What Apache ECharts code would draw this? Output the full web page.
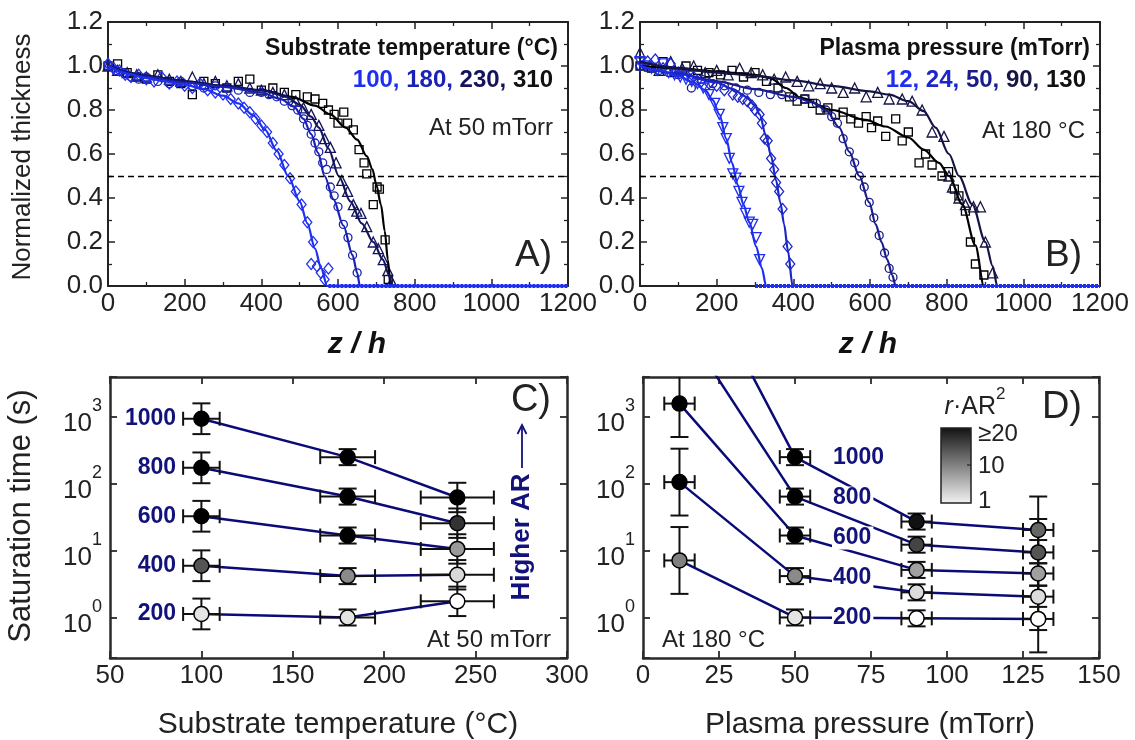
<!DOCTYPE html>
<html><head><meta charset="utf-8">
<script src="https://cdn.jsdelivr.net/npm/echarts@6/dist/echarts.min.js"></script>
<style>html,body{margin:0;padding:0;background:#fff}#c{width:1135px;height:740px}</style>
</head><body><div id="c"></div><script>
// ---------- Panel A: substrate temperature series (z/h, normalized thickness) ----------
const zA310 = [0,25,50,75,100,130,160,190,220,250,280,310,340,370,400,430,460,490,520,540,560,575,590,600,615,625,640,655,668,675,692,702,708,723,731];
const vA310 = [1.0,1.01,0.97,0.95,0.94,0.96,0.93,0.92,0.87,0.93,0.92,0.9,0.93,0.94,0.89,0.9,0.88,0.87,0.86,0.85,0.83,0.8,0.78,0.74,0.79,0.74,0.71,0.62,0.56,0.51,0.37,0.45,0.44,0.21,0.03];
const zA230 = [0,25,50,75,100,130,160,190,220,250,280,310,340,370,400,430,460,490,510,530,550,565,580,595,610,625,640,649,660,675,692,705,718,730,740];
const vA230 = [1.0,0.98,0.97,0.96,0.95,0.96,0.94,0.93,0.95,0.92,0.93,0.91,0.92,0.9,0.89,0.88,0.87,0.84,0.81,0.78,0.73,0.67,0.63,0.56,0.48,0.43,0.37,0.34,0.33,0.27,0.2,0.17,0.12,0.07,0.02];
const zA180 = [0,20,40,60,80,100,130,160,190,220,250,280,310,340,370,400,420,440,460,480,495,510,520,530,540,550,560,570,580,590,600,614,626,638,650];
const vA180 = [1.0,0.98,0.97,0.95,0.94,0.95,0.93,0.92,0.93,0.91,0.9,0.91,0.9,0.89,0.88,0.88,0.87,0.86,0.84,0.82,0.8,0.76,0.73,0.69,0.65,0.61,0.56,0.53,0.45,0.41,0.36,0.28,0.22,0.14,0.06];
const zA100 = [0,15,30,45,60,80,100,120,140,160,180,200,220,240,260,280,300,320,340,355,370,385,400,415,430,445,460,475,490,505,520,535,530,545,555,565,575];
const vA100 = [1.01,0.99,0.98,0.96,0.95,0.96,0.94,0.93,0.95,0.92,0.93,0.91,0.9,0.92,0.89,0.88,0.87,0.85,0.83,0.81,0.79,0.76,0.73,0.7,0.65,0.6,0.55,0.49,0.43,0.37,0.29,0.2,0.1,0.09,0.06,0.03,0.08];
const fitA310 = [[0,1.0],[100,0.955],[200,0.93],[300,0.91],[400,0.89],[480,0.86],[540,0.82],[580,0.78],[620,0.72],[650,0.665],[675,0.59],[690,0.53],[700,0.46],[712,0.37],[722,0.25],[730,0.12],[737,0],[1200,0]];
const fitA230 = [[0,1.0],[100,0.955],[200,0.93],[300,0.91],[400,0.89],[460,0.865],[500,0.825],[530,0.77],[550,0.72],[575,0.625],[602,0.5],[632,0.385],[662,0.285],[692,0.2],[717,0.12],[733,0.05],[742,0],[1200,0]];
const fitA180 = [[0,1.0],[100,0.95],[200,0.925],[300,0.905],[400,0.88],[450,0.85],[485,0.815],[510,0.76],[530,0.69],[548,0.605],[565,0.5],[588,0.395],[614,0.275],[638,0.14],[650,0.06],[657,0],[1200,0]];
const fitA100 = [[0,1.0],[50,0.965],[100,0.945],[150,0.93],[200,0.915],[250,0.895],[300,0.865],[340,0.83],[380,0.775],[410,0.71],[440,0.615],[470,0.5],[500,0.385],[520,0.285],[540,0.17],[556,0.08],[572,0],[1200,0]];
// range of z where the measured thickness is zero (dense markers along the axis)
const zeroA = [[575,0],[1200,0]];

// ---------- Panel B: plasma pressure series ----------
const zB12 = [0,15,30,45,60,75,90,105,120,135,150,165,180,195,207,216,225,233,242,250,258,266,275,285,294,303,312];
const vB12 = [1.02,1.0,0.99,0.98,1.01,0.97,0.96,0.95,0.94,0.93,0.92,0.9,0.87,0.83,0.78,0.72,0.67,0.58,0.51,0.49,0.43,0.38,0.33,0.29,0.28,0.22,0.12];
const zB24 = [0,20,40,60,80,100,120,140,160,180,200,220,242,255,268,280,292,300,312,318,325,333,342,350,355,363,372,385,392];
const vB24 = [1.0,1.02,1.03,0.99,1.01,0.97,0.96,0.95,0.93,0.92,0.91,0.89,0.87,0.86,0.85,0.84,0.82,0.8,0.78,0.74,0.67,0.66,0.58,0.53,0.47,0.43,0.35,0.18,0.1];
const zB50 = [0,25,50,75,100,134,160,190,220,250,280,310,340,370,400,430,460,485,500,515,530,546,560,572,585,598,610,624,638,650,660];
const vB50 = [1.0,0.99,0.98,0.97,0.96,0.9,0.94,0.92,0.91,0.9,0.89,0.88,0.87,0.87,0.86,0.85,0.83,0.8,0.77,0.74,0.67,0.61,0.56,0.5,0.45,0.38,0.31,0.23,0.15,0.08,0.04];
const zB90 = [0,25,50,80,110,140,170,200,230,260,290,320,350,380,410,440,470,500,530,560,590,620,650,684,710,736,762,793,806,815,832,849,870,888,901,920];
const vB90 = [1.06,1.0,0.98,1.02,0.99,1.0,0.97,0.98,0.96,0.99,0.97,0.96,0.94,0.95,0.93,0.91,0.92,0.9,0.88,0.9,0.86,0.88,0.85,0.85,0.84,0.8,0.7,0.68,0.5,0.45,0.4,0.37,0.36,0.36,0.2,0.06];
const zB130 = [0,30,60,90,120,150,180,210,240,270,300,330,360,390,410,430,450,470,490,510,530,550,570,590,604,620,641,667,684,700,728,745,762,788,805,820,832,849,862,875,897];
const vB130 = [1.0,0.99,1.02,0.97,1.0,0.98,0.97,0.96,0.98,0.95,0.97,0.93,0.9,0.86,0.84,0.85,0.83,0.8,0.81,0.78,0.79,0.76,0.74,0.77,0.72,0.75,0.68,0.76,0.66,0.7,0.56,0.6,0.55,0.5,0.52,0.44,0.41,0.34,0.2,0.1,0.05];
const fitB12 = [[0,1.0],[50,0.98],[100,0.955],[140,0.925],[170,0.89],[190,0.845],[207,0.78],[225,0.67],[240,0.56],[255,0.46],[270,0.37],[285,0.29],[303,0.18],[318,0.08],[329,0],[1200,0]];
const fitB24 = [[0,1.0],[100,0.965],[200,0.925],[242,0.895],[277,0.86],[300,0.82],[312,0.78],[329,0.68],[342,0.59],[355,0.48],[366,0.38],[376,0.28],[386,0.16],[398,0],[1200,0]];
const fitB50 = [[0,1.0],[100,0.965],[200,0.93],[300,0.895],[400,0.86],[450,0.835],[485,0.8],[520,0.72],[546,0.61],[572,0.5],[598,0.38],[615,0.28],[630,0.2],[645,0.12],[658,0.05],[667,0],[1200,0]];
const fitB90 = [[0,1.02],[100,0.99],[200,0.97],[300,0.955],[400,0.935],[500,0.91],[600,0.885],[650,0.87],[700,0.84],[740,0.795],[771,0.72],[806,0.6],[832,0.5],[867,0.37],[901,0.2],[920,0.09],[932,0],[1200,0]];
const fitB130 = [[0,1.0],[100,0.99],[200,0.975],[300,0.96],[340,0.945],[380,0.9],[420,0.855],[500,0.8],[589,0.755],[640,0.725],[700,0.675],[740,0.62],[780,0.56],[806,0.5],[841,0.37],[875,0.185],[897,0],[1200,0]];
const zeroB = [[300,0],[1200,0]];

// ---------- Panel C: saturation time vs substrate temperature ----------
const tempC = [100, 180, 240];
const satC200 = [1.14, 1.01, 1.76];
const satC400 = [6.0, 4.2, 4.4];
const satC600 = [33, 17, 10.7];
const satC800 = [175, 65, 26];
const satC1000 = [950, 253, 63];
const shadeC200 = ['#e4e4e4', '#e4e4e4', '#ffffff'];
const shadeC400 = ['#555555', '#8a8a8a', '#d8d8d8'];
const shadeC600 = ['#000000', '#000000', '#9a9a9a'];
const shadeC800 = ['#000000', '#000000', '#333333'];
const shadeC1000 = ['#000000', '#000000', '#000000'];
const xErrC = [10, 15, 20];
const yErrDecC = [0.23, 0.12, 0.22];

// ---------- Panel D: saturation time vs plasma pressure ----------
const pressD = [12, 50, 90, 130];
const satD200 = [7.2, 1.01, 0.98, 0.96];
const satD400 = [107, 4.2, 2.4, 2.07];
const satD600 = [1600, 17, 5.2, 4.6];
const satD800 = [29000, 65, 12.4, 9.5];
const satD1000 = [500000, 253, 27.5, 20.6];
const shadeD200 = ['#808080', '#e4e4e4', '#ffffff', '#ffffff'];
const shadeD400 = ['#000000', '#8a8a8a', '#dcdcdc', '#dcdcdc'];
const shadeD600 = ['#000000', '#000000', '#a0a0a0', '#a0a0a0'];
const shadeD800 = ['#000000', '#000000', '#444444', '#555555'];
const shadeD1000 = ['#000000', '#000000', '#111111', '#666666'];
const xErrD = [5, 5, 5, 5];
const yErrDecD = [0.5, 0.12, 0.12, 0.5];

const arLabels = ['200', '400', '600', '800', '1000'];

// ---------- styling ----------
const FONT = '"Liberation Sans", Arial, sans-serif';
const NAVY = '#12127A';
const LINE_NAVY = '#0B0B78';
const colA = { t100: '#1F2FEF', t180: '#1A22B4', t230: '#14145C', t310: '#000000' };
const colB = { p12: '#1F2FEF', p24: '#1B25C8', p50: '#1A1C8A', p90: '#151545', p130: '#000000' };

const zip = (xs, ys) => xs.map((x, i) => [x, ys[i]]);

function xPair(g, min, max, interval, minor) {
  const base = {
    type: 'value', gridIndex: g, min, max, interval,
    splitLine: { show: false },
    axisLine: { show: true, onZero: false, lineStyle: { color: '#222', width: 2 } },
    axisTick: { show: true, inside: true, length: 7, lineStyle: { color: '#222', width: 1.5 } },
    minorTick: { show: !!minor, splitNumber: minor || 5, length: 4, lineStyle: { color: '#222', width: 1.3 } }
  };
  return [
    Object.assign({}, base, { position: 'bottom', axisLabel: { show: true, fontSize: 26, color: '#222', fontFamily: FONT, margin: 5, formatter: v => String(v) } }),
    Object.assign({}, base, { position: 'top', axisLabel: { show: false } })
  ];
}
function yPairLin(g) {
  const base = {
    type: 'value', gridIndex: g, min: 0, max: 1.2, interval: 0.2,
    splitLine: { show: false },
    axisLine: { show: true, onZero: false, lineStyle: { color: '#222', width: 2 } },
    axisTick: { show: true, inside: true, length: 7, lineStyle: { color: '#222', width: 1.5 } },
    minorTick: { show: true, splitNumber: 2, length: 4, lineStyle: { color: '#222', width: 1.3 } }
  };
  return [
    Object.assign({}, base, { position: 'left', axisLabel: { show: true, fontSize: 26, color: '#222', fontFamily: FONT, margin: 5, formatter: v => v.toFixed(1) } }),
    Object.assign({}, base, { position: 'right', axisLabel: { show: false } })
  ];
}
function yPairLog(g) {
  const base = {
    type: 'log', logBase: 10, gridIndex: g, min: 0.25, max: 4000,
    splitLine: { show: false },
    axisLine: { show: true, onZero: false, lineStyle: { color: '#2a2a2a', width: 2.5 } },
    axisTick: { show: true, inside: true, length: 7, lineStyle: { color: '#2a2a2a', width: 1.8 } },
    minorTick: { show: false }
  };
  return [
    Object.assign({}, base, { position: 'left', axisLabel: {
      show: true, margin: 8, color: '#222', fontFamily: FONT,
      formatter: v => { const e = Math.log10(v); if (Math.abs(e - Math.round(e)) > 1e-6) return ''; return '{b|10}{s|' + Math.round(e) + '}'; },
      rich: { b: { fontSize: 26, lineHeight: 40, verticalAlign: 'bottom', fontFamily: FONT, color: '#222' },
              s: { fontSize: 18, lineHeight: 18, verticalAlign: 'top', fontFamily: FONT, color: '#222' } }
    } }),
    Object.assign({}, base, { position: 'right', axisLabel: { show: false } })
  ];
}
function xPairCD(g, min, max, interval) {
  const p = xPair(g, min, max, interval, 0);
  p.forEach(a => { a.axisLine.lineStyle = { color: '#2a2a2a', width: 2.5 }; a.axisTick.lineStyle = { color: '#2a2a2a', width: 1.8 }; });
  return p;
}

const series = [];
function addCurve(xi, fit, zs, vs, color, symbol, size, rotate) {
  series.push({ type: 'scatter', xAxisIndex: xi, yAxisIndex: xi, data: zip(zs, vs), symbol, symbolSize: size, symbolRotate: rotate || 0,
    itemStyle: { color: 'rgba(0,0,0,0)', borderColor: color, borderWidth: 1.3, opacity: 1 }, z: 2, silent: true });
  series.push({ type: 'line', xAxisIndex: xi, yAxisIndex: xi, data: fit, showSymbol: false, smooth: 0.3, smoothMonotone: 'x',
    lineStyle: { color, width: 2.2 }, z: 3, silent: true });
}
// Panel A
addCurve(0, fitA310, zA310, vA310, colA.t310, 'rect', 8);
addCurve(0, fitA230, zA230, vA230, colA.t230, 'triangle', 10);
addCurve(0, fitA180, zA180, vA180, colA.t180, 'circle', 8);
addCurve(0, fitA100, zA100, vA100, colA.t100, 'diamond', [9, 11]);
series.push({ type: 'line', xAxisIndex: 0, yAxisIndex: 0, data: zeroA, showSymbol: false, clip: false,
  lineStyle: { color: colA.t100, width: 4, type: [3, 1] }, z: 5, silent: true });
// Panel B
addCurve(2, fitB130, zB130, vB130, colB.p130, 'rect', 8);
addCurve(2, fitB90, zB90, vB90, colB.p90, 'triangle', 10);
addCurve(2, fitB50, zB50, vB50, colB.p50, 'circle', 8);
addCurve(2, fitB24, zB24, vB24, colB.p24, 'diamond', [9, 11]);
addCurve(2, fitB12, zB12, vB12, colB.p12, 'triangle', 10, 180);
series.push({ type: 'line', xAxisIndex: 2, yAxisIndex: 2, data: zeroB, showSymbol: false, clip: false,
  lineStyle: { color: colB.p12, width: 4, type: [3, 1] }, z: 5, silent: true });

const dashed = { silent: true, symbol: 'none', label: { show: false }, lineStyle: { type: [6, 4], color: '#000', width: 1.3 }, data: [{ yAxis: 0.5 }] };
series.push({ type: 'line', xAxisIndex: 0, yAxisIndex: 0, data: [], markLine: dashed });
series.push({ type: 'line', xAxisIndex: 2, yAxisIndex: 2, data: [], markLine: dashed });

function errRender(params, api) {
  const x = api.value(0), y = api.value(1), xe = api.value(2), yd = api.value(3);
  const c = api.coord([x, y]);
  const xl = api.coord([x - xe, y])[0], xh = api.coord([x + xe, y])[0];
  const f = Math.pow(10, yd);
  const yh = api.coord([x, y * f])[1], yl = api.coord([x, y / f])[1];
  const st = { stroke: '#111', lineWidth: 2 };
  const L = (x1, y1, x2, y2) => ({ type: 'line', shape: { x1, y1, x2, y2 }, style: st });
  return { type: 'group', children: [
    L(xl, c[1], xh, c[1]), L(xl, c[1] - 7, xl, c[1] + 7), L(xh, c[1] - 7, xh, c[1] + 7),
    L(c[0], yh, c[0], yl), L(c[0] - 9, yh, c[0] + 9, yh), L(c[0] - 9, yl, c[0] + 9, yl)
  ] };
}
function addSat(xi, xs, sats, shades, xErr, yDec, labelText) {
  series.push({ type: 'line', xAxisIndex: xi, yAxisIndex: xi, data: zip(xs, sats), showSymbol: false,
    lineStyle: { color: LINE_NAVY, width: 2.5 }, z: 2, silent: true });
  const eb = [], pts = [];
  xs.forEach((x, i) => {
    if (sats[i] > 4000) return;
    eb.push([x, sats[i], xErr[i], yDec[i]]);
    const item = { value: [x, sats[i]], itemStyle: { color: shades[i], opacity: 1 } };
    if (labelText && i === 0) item.label = { show: true, position: 'left', distance: 17, formatter: labelText,
      fontSize: 23, fontWeight: 'bold', color: NAVY, fontFamily: FONT, opacity: 1 };
    pts.push(item);
  });
  series.push({ type: 'custom', xAxisIndex: xi, yAxisIndex: xi, data: eb, renderItem: errRender, clip: true, z: 3, silent: true, encode: { x: 0, y: 1 } });
  series.push({ type: 'scatter', xAxisIndex: xi, yAxisIndex: xi, data: pts, symbol: 'circle', symbolSize: 15,
    itemStyle: { borderColor: '#000', borderWidth: 1.5, opacity: 1 }, z: 4, silent: true });
}
// Panel C
addSat(4, tempC, satC1000, shadeC1000, xErrC, yErrDecC, arLabels[4]);
addSat(4, tempC, satC800, shadeC800, xErrC, yErrDecC, arLabels[3]);
addSat(4, tempC, satC600, shadeC600, xErrC, yErrDecC, arLabels[2]);
addSat(4, tempC, satC400, shadeC400, xErrC, yErrDecC, arLabels[1]);
addSat(4, tempC, satC200, shadeC200, xErrC, yErrDecC, arLabels[0]);
// Panel D
addSat(6, pressD, satD1000, shadeD1000, xErrD, yErrDecD);
addSat(6, pressD, satD800, shadeD800, xErrD, yErrDecD);
addSat(6, pressD, satD600, shadeD600, xErrD, yErrDecD);
addSat(6, pressD, satD400, shadeD400, xErrD, yErrDecD);
addSat(6, pressD, satD200, shadeD200, xErrD, yErrDecD);

const T = (x, y, text, font, fill, align, extra) => Object.assign({ type: 'text', x, y, z: 100, style: { text, font, fill: fill || '#222', align: align || 'left', verticalAlign: 'middle' } }, extra || {});
const dLabel = (y, t) => ({ type: 'text', x: 832, y, z: 100, style: { text: t, font: 'bold 23px ' + FONT, fill: NAVY, align: 'left', verticalAlign: 'middle', backgroundColor: '#fff', padding: [0, 2, 0, 1] } });
const graphic = [
  T(23, 157, 'Normalized thickness', '26px ' + FONT, '#222', 'center', { rotation: Math.PI / 2 }),
  T(21, 516, 'Saturation time (s)', '31px ' + FONT, '#222', 'center', { rotation: Math.PI / 2 }),
  T(357, 345, 'z / h', 'italic bold 30px ' + FONT, '#111', 'center'),
  T(868, 345, 'z / h', 'italic bold 30px ' + FONT, '#111', 'center'),
  T(338, 725, 'Substrate temperature (°C)', '30px ' + FONT, '#222', 'center'),
  T(870, 725, 'Plasma pressure (mTorr)', '30px ' + FONT, '#222', 'center'),
  // panel A
  T(558, 49, 'Substrate temperature (°C)', 'bold 23px ' + FONT, '#111', 'right'),
  { type: 'text', x: 553, y: 80, z: 100, style: { text: '{a|100, }{b|180, }{c|230, }{d|310}', align: 'right', verticalAlign: 'middle',
    rich: { a: { fill: colA.t100, font: 'bold 24px ' + FONT }, b: { fill: colA.t180, font: 'bold 24px ' + FONT },
            c: { fill: colA.t230, font: 'bold 24px ' + FONT }, d: { fill: '#111', font: 'bold 24px ' + FONT } } } },
  T(553, 128, 'At 50 mTorr', '24px ' + FONT, '#222', 'right'),
  T(552, 256, 'A)', '37px ' + FONT, '#222', 'right'),
  // panel B
  T(1090, 49, 'Plasma pressure (mTorr)', 'bold 23px ' + FONT, '#111', 'right'),
  { type: 'text', x: 1086, y: 80, z: 100, style: { text: '{a|12, }{b|24, }{c|50, }{d|90, }{e|130}', align: 'right', verticalAlign: 'middle',
    rich: { a: { fill: colB.p12, font: 'bold 24px ' + FONT }, b: { fill: colB.p24, font: 'bold 24px ' + FONT },
            c: { fill: colB.p50, font: 'bold 24px ' + FONT }, d: { fill: colB.p90, font: 'bold 24px ' + FONT }, e: { fill: '#111', font: 'bold 24px ' + FONT } } } },
  T(1085, 131, 'At 180 °C', '24px ' + FONT, '#222', 'right'),
  T(1082, 256, 'B)', '37px ' + FONT, '#222', 'right'),
  // panel C
  T(551, 401, 'C)', '38px ' + FONT, '#222', 'right'),
  T(551, 640, 'At 50 mTorr', '24px ' + FONT, '#222', 'right'),
  T(522, 537, 'Higher AR', 'bold 26px ' + FONT, NAVY, 'center', { rotation: Math.PI / 2 }),
  { type: 'line', z: 100, shape: { x1: 522, y1: 468, x2: 522, y2: 426 }, style: { stroke: NAVY, lineWidth: 1.8 } },
  { type: 'polyline', z: 100, shape: { points: [[517.5, 434], [522, 425], [526.5, 434]] }, style: { stroke: NAVY, lineWidth: 1.8, fill: null } },
  // panel D
  T(1082, 408, 'D)', '38px ' + FONT, '#222', 'right'),
  T(662, 640, 'At 180 °C', '24px ' + FONT, '#222', 'left'),
  dLabel(458, arLabels[4]), dLabel(498, arLabels[3]), dLabel(538, arLabels[2]), dLabel(578, arLabels[1]), dLabel(618, arLabels[0]),
  // colorbar
  { type: 'text', x: 975, y: 403, z: 100, style: { text: '{i|r}{n|·AR}{s|2}', align: 'center', verticalAlign: 'middle',
    rich: { i: { font: 'italic 25px ' + FONT, fill: '#222', lineHeight: 34, verticalAlign: 'bottom' },
            n: { font: '25px ' + FONT, fill: '#222', lineHeight: 34, verticalAlign: 'bottom' },
            s: { font: '17px ' + FONT, fill: '#222', lineHeight: 17, verticalAlign: 'top' } } } },
  { type: 'rect', z: 100, shape: { x: 941, y: 428, width: 30, height: 75 },
    style: { fill: new echarts.graphic.LinearGradient(0, 0, 0, 1, [{ offset: 0, color: '#111' }, { offset: 1, color: '#f4f4f4' }]), stroke: '#222', lineWidth: 1.5 } },
  { type: 'line', z: 100, shape: { x1: 967, y1: 465, x2: 971, y2: 465 }, style: { stroke: '#222', lineWidth: 1.2 } },
  T(978, 434, '≥20', '24px ' + FONT, '#222', 'left'),
  T(978, 466, '10', '24px ' + FONT, '#222', 'left'),
  T(978, 501, '1', '24px ' + FONT, '#222', 'left')
];

const option = {
  animation: false,
  backgroundColor: '#fff',
  grid: [
    { left: 108, top: 22, width: 460, height: 264 },
    { left: 640, top: 22, width: 460, height: 264 },
    { left: 110, top: 377, width: 457, height: 281 },
    { left: 643, top: 377, width: 456, height: 281 }
  ],
  xAxis: [].concat(xPair(0, 0, 1200, 200, 2), xPair(1, 0, 1200, 200, 2), xPairCD(2, 50, 300, 50), xPairCD(3, 0, 150, 25)),
  yAxis: [].concat(yPairLin(0), yPairLin(1), yPairLog(2), yPairLog(3)),
  series,
  graphic
};
const chart = echarts.init(document.getElementById('c'), null, { renderer: 'canvas' });
chart.setOption(option);
</script></body></html>
